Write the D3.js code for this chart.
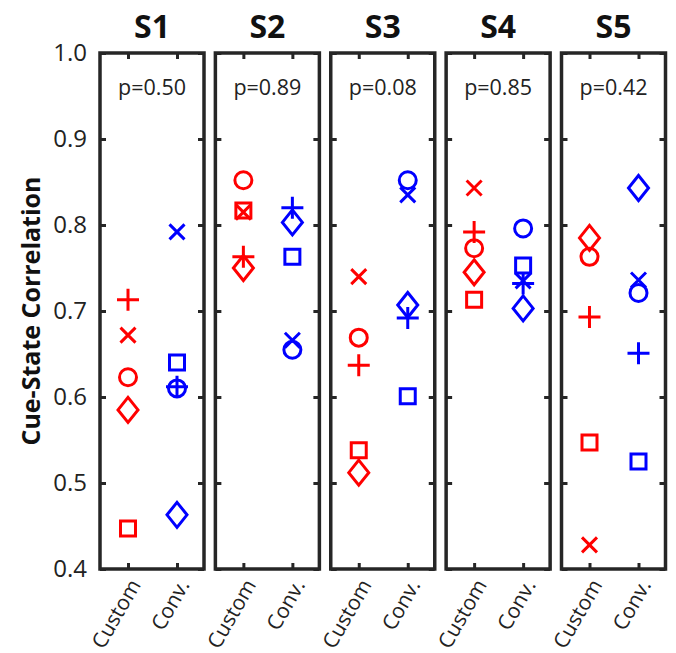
<!DOCTYPE html>
<html><head><meta charset="utf-8">
<script src="https://cdn.jsdelivr.net/npm/d3@7"></script>
<style>body{margin:0;background:#fff}svg{display:block}text{font-family:"Open Sans",sans-serif;fill:#222}</style>
</head><body><svg id="c" width="676" height="653"></svg>
<script>
const subjects = ["S1","S2","S3","S4","S5"];
const categories = ["Custom","Conv."];
const pValues = ["p=0.50","p=0.89","p=0.08","p=0.85","p=0.42"];
const yTicks = [0.4,0.5,0.6,0.7,0.8,0.9,1.0];
const customPlus    = [0.713, 0.763, 0.637, 0.792, 0.693];
const customX       = [0.672, 0.815, 0.740, 0.843, 0.428];
const customCircle  = [0.623, 0.852, 0.669, 0.773, 0.763];
const customDiamond = [0.585, 0.750, 0.512, 0.745, 0.785];
const customSquare  = [0.447, 0.817, 0.538, 0.713, 0.547];
const convPlus      = [0.612, 0.820, 0.692, 0.732, 0.651];
const convX         = [0.792, 0.666, 0.835, 0.735, 0.736];
const convCircle    = [0.610, 0.655, 0.852, 0.796, 0.721];
const convDiamond   = [0.463, 0.803, 0.707, 0.703, 0.843];
const convSquare    = [0.640, 0.763, 0.601, 0.753, 0.525];

const series = [
  {cat:"Custom", shape:"square", vals:customSquare},
  {cat:"Custom", shape:"diamond", vals:customDiamond},
  {cat:"Custom", shape:"circle", vals:customCircle},
  {cat:"Custom", shape:"x", vals:customX},
  {cat:"Custom", shape:"plus", vals:customPlus},
  {cat:"Conv.", shape:"square", vals:convSquare},
  {cat:"Conv.", shape:"diamond", vals:convDiamond},
  {cat:"Conv.", shape:"circle", vals:convCircle},
  {cat:"Conv.", shape:"x", vals:convX},
  {cat:"Conv.", shape:"plus", vals:convPlus}
];
const colorOf = {"Custom":"#ff0000","Conv.":"#0000ff"};

const svg = d3.select("#c");
const plotTop = 53, plotBottom = 569, panelW = 104;
const y = d3.scaleLinear().domain([0.4,1.0]).range([plotBottom, plotTop]);
const px = d3.scaleLinear().domain([0,4]).range([100, 561.5]);
const frame = "#262626";

function shapePath(s){
  switch(s){
    case "circle": return "M8.5,0A8.5,8.5 0 1,1 -8.5,0A8.5,8.5 0 1,1 8.5,0Z";
    case "square": return "M-7.5,-7.5H7.5V7.5H-7.5Z";
    case "diamond": return "M0,-12.5L10,0L0,12.5L-10,0Z";
    case "plus": return "M-11,0H11M0,-11V11";
    case "x": return "M-7.5,-7.5L7.5,7.5M-7.5,7.5L7.5,-7.5";
  }
}

subjects.forEach((s,i)=>{
  const x0 = px(i);
  const g = svg.append("g").attr("transform",`translate(${x0},0)`);
  const x = d3.scalePoint().domain(categories).range([28,77]);
  const yl = d3.axisRight(y).tickValues(yTicks).tickSize(6).tickFormat("");
  const yr = d3.axisLeft(y).tickValues(yTicks).tickSize(6).tickFormat("");
  const xb = d3.axisTop(x).tickSize(6).tickFormat("");
  const xt = d3.axisBottom(x).tickSize(6).tickFormat("");
  g.append("g").call(yl).call(a=>a.select(".domain").remove());
  g.append("g").attr("transform",`translate(${panelW},0)`).call(yr).call(a=>a.select(".domain").remove());
  g.append("g").attr("transform",`translate(0,${plotBottom})`).call(xb).call(a=>a.select(".domain").remove());
  g.append("g").attr("transform",`translate(0,${plotTop})`).call(xt).call(a=>a.select(".domain").remove());
  g.selectAll(".tick line").attr("stroke",frame).attr("stroke-width",3);
  series.forEach(se=>{
    g.append("path").attr("d",shapePath(se.shape))
      .attr("transform",`translate(${x(se.cat)},${y(se.vals[i])})`)
      .attr("fill","none").attr("stroke",colorOf[se.cat]).attr("stroke-width",3);
  });
  g.append("rect").attr("x",0).attr("y",plotTop).attr("width",panelW).attr("height",plotBottom-plotTop)
    .attr("fill","none").attr("stroke",frame).attr("stroke-width",3.5);
  g.append("text").attr("x",panelW/2).attr("y",38).attr("text-anchor","middle")
    .attr("font-size",32).attr("font-weight","bold").style("fill","#111").text(s);
  g.append("text").attr("x",panelW/2).attr("y",95).attr("text-anchor","middle")
    .attr("font-size",21.5).text(pValues[i]);
  categories.forEach(c=>{
    g.append("text").attr("transform",`translate(${x(c)+7},${581}) rotate(-60)`)
      .attr("text-anchor","end").attr("dy","0.35em").attr("font-size",21).text(c);
  });
  if(i===0){
    const ya = d3.axisLeft(y).tickValues(yTicks).tickSize(0).tickPadding(13).tickFormat(d3.format(".1f"));
    const ag = svg.append("g").attr("transform",`translate(${x0},0)`).call(ya);
    ag.select(".domain").remove();
    ag.selectAll("text").attr("font-size",24).style("font-family","'Open Sans',sans-serif").style("fill","#222");
  }
});
svg.append("text").attr("transform",`translate(31,${(plotTop+plotBottom)/2}) rotate(-90)`)
  .attr("text-anchor","middle").attr("dy","0.35em").attr("font-size",25).attr("font-weight","bold")
  .style("fill","#111").text("Cue-State Correlation");
</script></body></html>
